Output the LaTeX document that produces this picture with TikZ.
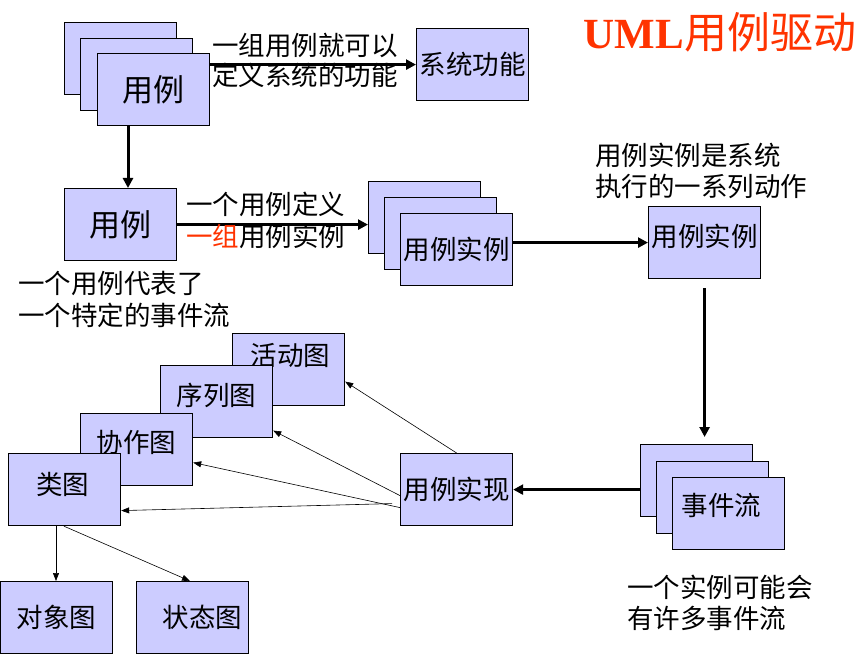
\documentclass[tikz,border=0pt]{standalone}
\usepackage{fontspec}
\setmainfont{Noto Sans CJK SC}
\newfontfamily\titlelatin{Liberation Serif}
\usetikzlibrary{arrows.meta}
\definecolor{boxfill}{HTML}{CCCCFF}
\definecolor{titlered}{HTML}{FF3300}
\begin{document}
\begin{tikzpicture}[x=1pt,y=-1pt,
  box/.style={draw, fill=boxfill, line width=1.2pt, minimum width=112pt, minimum height=72pt, anchor=north west, inner sep=0pt, font=\fontsize{26.5}{26.5}\selectfont},
  txt/.style={inner sep=0pt, font=\fontsize{26.5}{26.5}\selectfont},
  lbl/.style={anchor=west, inner sep=0pt, font=\fontsize{26.5}{26.5}\selectfont},
  bigarrow/.style={line width=3pt, -{Triangle[length=10pt,width=10pt]}},
  thinarrow/.style={line width=0.6pt, -{Triangle[length=8pt,width=6pt]}}]
\useasboundingbox (0,0) rectangle (868,655);
% title
\node[inner sep=0pt, text=titlered] (title) at (720,32) {{\titlelatin\bfseries\fontsize{43}{43}\selectfont UML}{\fontsize{43}{43}\selectfont 用例驱动}};
% use case stack
\node[box] (u1a) at (64,22) {};
\node[box] (u1b) at (80,38) {};
\node[box, font=\fontsize{31}{31}\selectfont] (u1c) at (97,53) {用例};
\node[box] (sys) at (416,28) {系统功能};
\draw[bigarrow] (u1c.east |- sys.west) -- (sys.west);
\node[lbl] (l1) at (212,45) {一组用例就可以};
\node[lbl] (l2) at (212,75) {定义系统的功能};
% single use case
\node[box, font=\fontsize{31}{31}\selectfont] (uc) at (64,188) {用例};
\draw[bigarrow] ([xshift=31pt]u1c.south west) -- ([xshift=31pt]u1c.south west |- uc.north);
\node[lbl] (l3) at (18,283) {一个用例代表了};
\node[lbl] (l4) at (18,315) {一个特定的事件流};
% instance stack
\node[box] (ui1a) at (368,181) {};
\node[box] (ui1b) at (384,197) {};
\node[box] (ui1c) at (400,213) {用例实例};
\draw[bigarrow] (uc.east) -- (ui1a.west |- uc.east);
\node[lbl] (l5) at (186,204) {一个用例定义};
\node[lbl] (l6) at (186,236) {{\color{titlered}一组}用例实例};
% single instance
\node[box] (ui) at (648,206) {};
\node[txt] (uitext) at ([yshift=6pt]ui.center) {用例实例};
\draw[bigarrow] (ui1c.east |- ui.west) -- (ui.west);
\node[lbl] (l7) at (595,155) {用例实例是系统};
\node[lbl] (l8) at (595,186) {执行的一系列动作};
% event flow stack
\node[box] (ev1a) at (640,444) {};
\node[box] (ev1b) at (656,461) {};
\node[box] (ev1c) at (672,477) {};
\node[txt] (evtext) at ([xshift=-7pt,yshift=8pt]ev1c.center) {事件流};
\draw[bigarrow] ([yshift=-9pt]ui.south) -- ([yshift=7pt]ev1a.north -| ui.south);
\node[lbl] (l9) at (627,587) {一个实例可能会};
\node[lbl] (l10) at (627,618) {有许多事件流};
% realization
\node[box] (real) at (400,453) {用例实现};
\draw[bigarrow] (ev1a.west |- real.east) -- (real.east);
% diagrams
\node[box] (act) at (232,333) {};
\node[txt] (acttext) at ([xshift=2pt,yshift=14pt]act.center) {活动图};
\node[box] (seq) at (160,365) {};
\node[txt] (seqtext) at ([yshift=6pt]seq.center) {序列图};
\node[box] (col) at (80,413) {};
\node[txt] (coltext) at ([yshift=7pt]col.center) {协作图};
\node[box] (cls) at (8,453) {};
\node[txt] (clstext) at ([xshift=-2pt,yshift=5pt]cls.center) {类图};
\node[box] (obj) at (0,581) {对象图};
\node[box] (st) at (136,581) {};
\node[txt] (sttext) at ([xshift=10pt]st.center) {状态图};
\draw[thinarrow] (real.north) -- ([yshift=-12pt]act.east);
\draw[thinarrow] ([yshift=-6pt]real.west) -- ([yshift=-29pt]seq.east);
\draw[thinarrow] ([yshift=-18pt]real.west) -- ([yshift=-13pt]col.east);
\draw[thinarrow] ([xshift=-8pt,yshift=-14pt]real.west) -- ([yshift=-21pt]cls.east);
\draw[thinarrow] ([xshift=48pt]cls.south west) -- ([xshift=48pt]cls.south west |- obj.north);
\draw[thinarrow] ([xshift=56pt]cls.south west) -- ([xshift=54pt]st.north west);
\end{tikzpicture}
\end{document}
